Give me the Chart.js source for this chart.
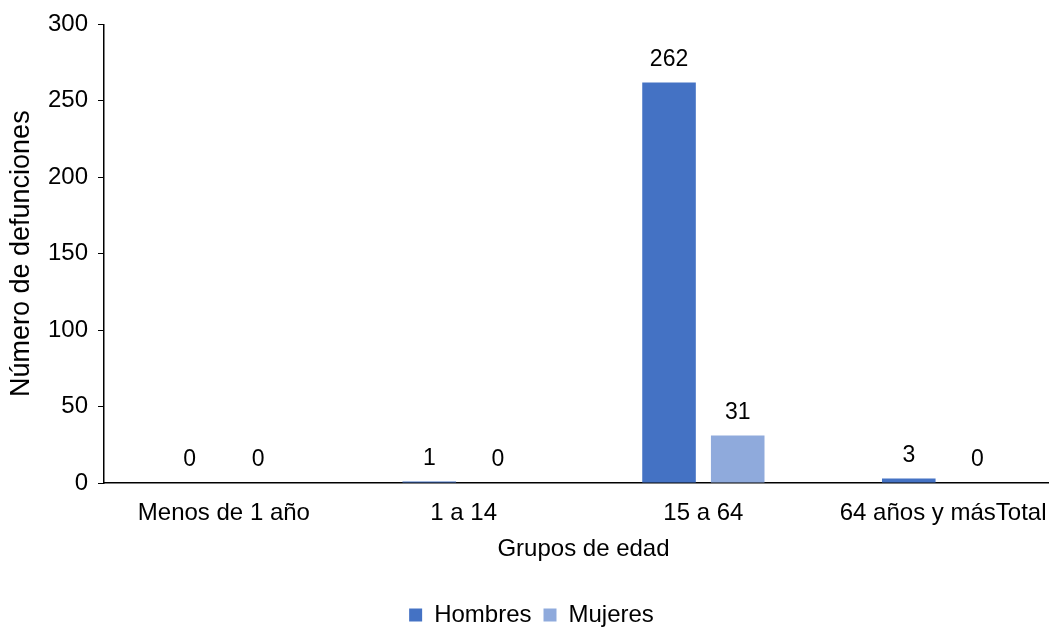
<!DOCTYPE html>
<html lang="es">
<head>
<meta charset="utf-8">
<title>Defunciones por grupos de edad</title>
<script src="https://cdn.jsdelivr.net/npm/chart.js@4.4.1/dist/chart.umd.min.js"></script>
<style>
  html, body { margin: 0; padding: 0; background: #fff; overflow: hidden; }
  #wrap { position: relative; width: 1066px; height: 627px; }
</style>
</head>
<body>
<div id="wrap"><canvas id="chart"></canvas></div>
<script>
// Age groups and deaths by sex
const categories = ['Menos de 1 año', '1 a 14', '15 a 64', '64 años y másTotal'];
const hombres = [0, 1, 262, 3];
const mujeres = [0, 0, 31, 0];
const yTicks = [0, 50, 100, 150, 200, 250, 300];

const FONT = '"Liberation Sans", Arial, sans-serif';

// Value labels above each bar
const valueLabels = {
  id: 'valueLabels',
  afterDatasetsDraw(chart) {
    const ctx = chart.ctx;
    ctx.save();
    ctx.font = '23px ' + FONT;
    ctx.fillStyle = '#000';
    ctx.textAlign = 'center';
    ctx.textBaseline = 'middle';
    chart.data.datasets.forEach((ds, i) => {
      chart.getDatasetMeta(i).data.forEach((bar, j) => {
        ctx.fillText(String(ds.data[j]), bar.x, bar.y - 23);
      });
    });
    ctx.restore();
  }
};

new Chart(document.getElementById('chart'), {
  type: 'bar',
  data: {
    labels: categories,
    datasets: [
      { label: 'Hombres', data: hombres, backgroundColor: '#4472C4' },
      { label: 'Mujeres', data: mujeres, backgroundColor: '#8FAADC' }
    ]
  },
  options: {
    responsive: true,
    maintainAspectRatio: false,
    animation: false,
    devicePixelRatio: 1,
    categoryPercentage: 0.573,
    barPercentage: 0.78,
    layout: { padding: { top: 16, right: 3, left: 0, bottom: 0 } },
    plugins: {
      tooltip: { enabled: false },
      legend: {
        position: 'bottom',
        maxHeight: 36,
        labels: {
          color: '#000',
          font: { family: FONT, size: 24 },
          boxWidth: 13,
          boxHeight: 13,
          padding: 12
        }
      }
    },
    scales: {
      x: {
        grid: { display: false },
        border: { display: true, color: '#000', width: 1.5 },
        ticks: { color: '#000', font: { family: FONT, size: 24 }, padding: 8, maxRotation: 0, autoSkip: false },
        title: { display: true, text: 'Grupos de edad', color: '#000', font: { family: FONT, size: 24 }, padding: { top: 0, bottom: 27 } },
        afterFit(scale) { scale.height = 108; }
      },
      y: {
        min: 0,
        max: 300,
        afterBuildTicks(scale) { scale.ticks = yTicks.map(v => ({ value: v })); },
        grid: { drawOnChartArea: false, drawTicks: true, tickLength: 6, color: '#000', tickColor: '#000' },
        border: { display: true, color: '#000', width: 1.5 },
        ticks: { color: '#000', font: { family: FONT, size: 24 }, padding: 10 },
        title: { display: true, text: 'Número de defunciones', color: '#000', font: { family: FONT, size: 27 }, padding: { top: 5, bottom: 0 } },
        afterFit(scale) { scale.width = 104; }
      }
    }
  },
  plugins: [valueLabels]
});
</script>
</body>
</html>
